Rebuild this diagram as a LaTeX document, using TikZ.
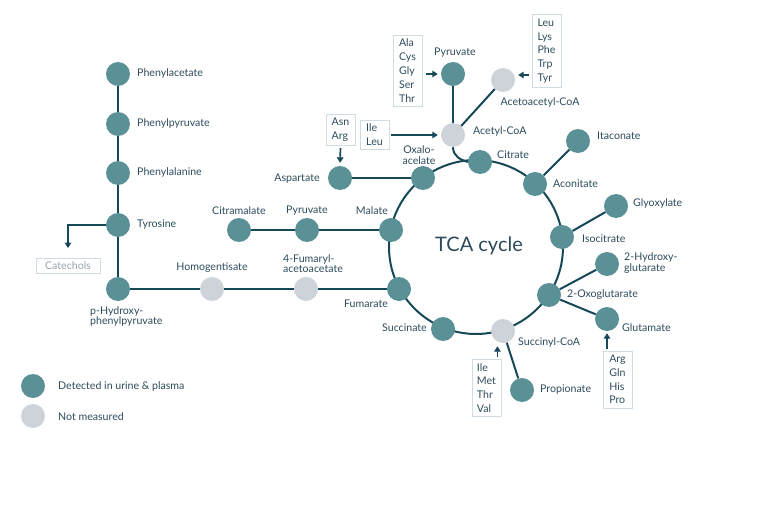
\documentclass[tikz,border=0pt]{standalone}
\usepackage{fontspec}
\setmainfont{Lato}
\usetikzlibrary{arrows.meta}
\definecolor{tealc}{RGB}{90,145,150}
\definecolor{greyc}{RGB}{206,211,217}
\definecolor{linec}{RGB}{22,72,88}
\definecolor{txtc}{RGB}{45,75,92}
\definecolor{boxc}{RGB}{208,220,225}
\definecolor{catc}{RGB}{150,165,172}
\tikzset{
  met/.style={circle, fill=tealc, minimum size=24pt, inner sep=0pt},
  nm/.style={circle, fill=greyc, minimum size=24pt, inner sep=0pt},
  lab/.style={text=txtc, inner sep=0pt, font=\fontsize{10.6}{10.5}\selectfont},
  aabox/.style={draw=boxc, line width=0.8pt, align=left, inner xsep=5pt, inner ysep=4pt, text=txtc, font=\fontsize{10.6}{13.8}\selectfont, minimum width=29pt},
  conn/.style={draw=linec, line width=2pt},
  arr/.style={draw=linec, line width=1.7pt, -{Triangle[length=5.5pt,width=6.5pt]}}
}
\begin{document}
\begin{tikzpicture}[x=1pt,y=-1pt]
\useasboundingbox (0,0) rectangle (768,508);
% TCA cycle ring
\draw[conn] (476,247) circle[radius=87pt];
\node[text=txtc, font=\fontsize{20}{22}\selectfont] (tca) at (479,246) {TCA cycle};

% cycle members
\node[met] (oaa) at (423,178) {};
\node[met] (cit) at (480,162) {};
\node[met] (aco) at (535,184) {};
\node[met] (icit) at (562,237) {};
\node[met] (oxo) at (549,295) {};
\node[nm]  (scoa) at (503,331) {};
\node[met] (succ) at (443,329) {};
\node[met] (fum) at (399,289) {};
\node[met] (mal) at (391,230) {};

% left column
\node[met] (phac) at (118,74) {};
\node[met] (phpy) at (118,124) {};
\node[met] (phal) at (118,173) {};
\node[met] (tyr) at (118,225) {};
\node[met] (hpp) at (118,289) {};
\node[nm]  (hga) at (212,289) {};
\node[nm]  (faa) at (306,289) {};

\node[met] (citm) at (239,230) {};
\node[met] (pyr2) at (307,230) {};
\node[met] (asp) at (340,178) {};

\node[nm]  (acoa) at (453,135) {};
\node[met] (pyr) at (453,74) {};
\node[nm]  (aacoa) at (503,80) {};

\node[met] (ita) at (578,141) {};
\node[met] (glyox) at (616,206) {};
\node[met] (hg) at (607,264) {};
\node[met] (glu) at (607,319) {};
\node[met] (prop) at (522,390) {};

% connectors
\draw[conn] (phac) -- (phpy);
\draw[conn] (phpy) -- (phal);
\draw[conn] (phal) -- (tyr);
\draw[conn] (tyr) -- (hpp);
\draw[conn] (hpp) -- (hga);
\draw[conn] (hga) -- (faa);
\draw[conn] (faa) -- (fum);
\draw[conn] (citm) -- (pyr2);
\draw[conn] (pyr2) -- (mal);
\draw[conn] (asp) -- (oaa);
\draw[conn] (pyr) -- (acoa);
\draw[conn] (aacoa) -- (acoa);
\draw[conn] (acoa.south) .. controls +(0,9) and +(-7,-2) .. (cit.west);
\draw[conn] (aco) -- (ita);
\draw[conn] (icit) -- (glyox);
\draw[conn] (oxo) -- (hg);
\draw[conn] (oxo) -- (glu);
\draw[conn] (scoa) -- (prop);

% boxes
\node[aabox] (bala) at (407.5,70.5) {Ala\\Cys\\Gly\\Ser\\Thr};
\node[aabox] (bleu) at (546.5,51) {Leu\\Lys\\Phe\\Trp\\Tyr};
\node[aabox] (bil) at (374.5,135) {Ile\\Leu};
\node[aabox] (basn) at (340.5,130) {Asn\\Arg};
\node[aabox] (bimt) at (486.5,388) {Ile\\Met\\Thr\\Val};
\node[aabox] (barg) at (617.5,379.5) {Arg\\Gln\\His\\Pro};
\node[draw=boxc, line width=0.8pt, text=catc, font=\fontsize{10.6}{10}\selectfont, minimum width=64pt, minimum height=15pt, inner sep=0pt] (cat) at (68,266) {Catechols};

% arrows
\draw[arr, shorten <=4pt, shorten >=3pt] (bala.east |- pyr) -- (pyr.west);
\draw[arr, shorten <=3pt, shorten >=3pt] ([yshift=5pt]bleu.west |- aacoa) -- ([yshift=5pt]aacoa.east |- aacoa);
\draw[arr, shorten <=2pt, shorten >=3pt] (bil.east |- acoa) -- (acoa.west);
\draw[arr, shorten <=2pt, shorten >=3pt] (basn.south) -- (asp.north);
\draw[arr, shorten <=2pt, shorten >=3pt] ([xshift=-4pt]bimt.north east) -- ([xshift=-4pt]bimt.north east |- scoa.south);
\draw[arr, shorten <=2pt, shorten >=2pt] (barg.north -| glu) -- (glu.south);
\draw[arr, shorten >=10pt] (tyr.west) -| (cat.north);

% labels
\node[lab, anchor=west] (lphac) at (137,74) {Phenylacetate};
\node[lab, anchor=west] (lphpy) at (137,124) {Phenylpyruvate};
\node[lab, anchor=west] (lphal) at (137,173) {Phenylalanine};
\node[lab, anchor=west] (ltyr) at (137,225) {Tyrosine};
\node[lab, anchor=west, align=left] (lhpp) at (90,316.5) {p-Hydroxy-\\phenylpyruvate};
\node[lab] (lhga) at (212,268) {Homogentisate};
\node[lab, align=left] (lfaa) at (313,263.5) {4-Fumaryl-\\acetoacetate};
\node[lab] (lfum) at (366,304) {Fumarate};
\node[lab] (lcitm) at (239,211) {Citramalate};
\node[lab] (lpyr2) at (307,211) {Pyruvate};
\node[lab] (lmal) at (372,211) {Malate};
\node[lab] (lasp) at (297,179) {Aspartate};
\node[lab, align=center] (loaa) at (419,155) {Oxalo-\\acelate};
\node[lab, anchor=west] (lcit) at (497,155) {Citrate};
\node[lab, anchor=west] (lacoa) at (473,132) {Acetyl-CoA};
\node[lab] (lpyr) at (455,53) {Pyruvate};
\node[lab] (laacoa) at (540,103) {Acetoacetyl-CoA};
\node[lab, anchor=west] (lita) at (597,136) {Itaconate};
\node[lab, anchor=west] (laco) at (553,184) {Aconitate};
\node[lab, anchor=west] (lglyox) at (633,204) {Glyoxylate};
\node[lab, anchor=west] (licit) at (582,239) {Isocitrate};
\node[lab, anchor=west, align=left] (lhg) at (624,263) {2-Hydroxy-\\glutarate};
\node[lab, anchor=west] (loxo) at (567,295) {2-Oxoglutarate};
\node[lab, anchor=west] (lglu) at (622,328) {Glutamate};
\node[lab, anchor=west] (lscoa) at (518,343) {Succinyl-CoA};
\node[lab, anchor=west] (lprop) at (540,390) {Propionate};
\node[lab, anchor=east] (lsucc) at (427,328) {Succinate};

% legend
\node[met] (leg1) at (33,386) {};
\node[nm] (leg2) at (33,416) {};
\node[lab, anchor=west] (lleg1) at (58,387) {Detected in urine \& plasma};
\node[lab, anchor=west] (lleg2) at (58,417) {Not measured};
\end{tikzpicture}
\end{document}
